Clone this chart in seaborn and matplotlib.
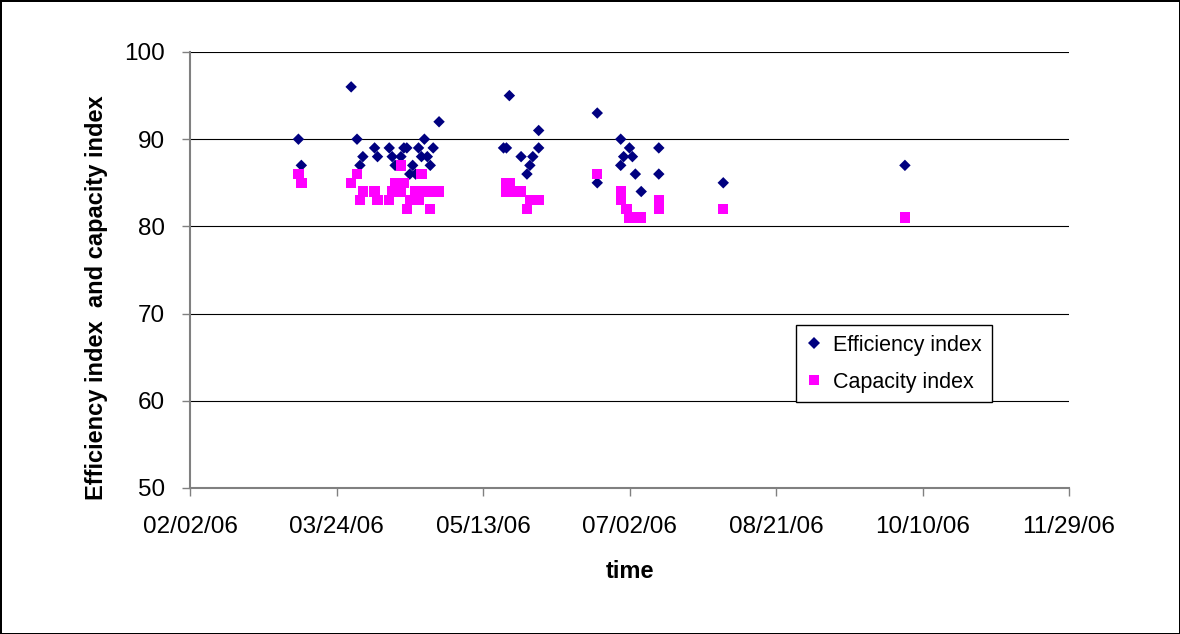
import matplotlib
matplotlib.use("Agg")
import matplotlib.pyplot as plt
import matplotlib.dates as mdates
import pandas as pd
import seaborn as sns

# efficiency index readings
eff_dates = ["2006-03-11", "2006-03-12", "2006-03-29", "2006-03-31", "2006-04-01", "2006-04-02",
             "2006-04-06", "2006-04-07", "2006-04-11", "2006-04-12", "2006-04-13", "2006-04-15",
             "2006-04-16", "2006-04-17", "2006-04-18", "2006-04-19", "2006-04-20", "2006-04-21",
             "2006-04-22", "2006-04-23", "2006-04-24", "2006-04-25", "2006-04-26", "2006-04-28",
             "2006-05-20", "2006-05-21", "2006-05-22", "2006-05-26", "2006-05-28", "2006-05-29",
             "2006-05-30", "2006-06-01", "2006-06-01",
             "2006-06-21", "2006-06-21", "2006-06-29", "2006-06-29", "2006-06-30", "2006-07-02",
             "2006-07-03", "2006-07-04", "2006-07-06", "2006-07-12", "2006-07-12",
             "2006-08-03", "2006-10-04"]
eff_vals = [90, 87, 96, 90, 87, 88,
            89, 88, 89, 88, 87, 88,
            89, 89, 86, 87, 86, 89,
            88, 90, 88, 87, 89, 92,
            89, 89, 95, 88, 86, 87,
            88, 91, 89,
            93, 85, 90, 87, 88, 89,
            88, 86, 84, 86, 89,
            85, 87]

# capacity index readings
cap_dates = ["2006-03-11", "2006-03-12", "2006-03-29", "2006-03-31", "2006-04-01", "2006-04-02",
             "2006-04-06", "2006-04-07", "2006-04-11", "2006-04-12", "2006-04-13", "2006-04-15",
             "2006-04-15", "2006-04-16", "2006-04-17", "2006-04-18", "2006-04-20", "2006-04-21",
             "2006-04-22", "2006-04-23", "2006-04-25", "2006-04-25", "2006-04-28",
             "2006-05-21", "2006-05-22", "2006-05-21", "2006-05-24", "2006-05-26", "2006-05-28",
             "2006-05-29", "2006-06-01",
             "2006-06-21", "2006-06-29", "2006-06-29", "2006-07-01", "2006-07-02", "2006-07-04",
             "2006-07-06", "2006-07-12", "2006-07-12", "2006-08-03", "2006-10-04"]
cap_vals = [86, 85, 85, 86, 83, 84,
            84, 83, 83, 84, 85, 87,
            84, 85, 82, 83, 84, 83,
            86, 84, 84, 82, 84,
            85, 85, 84, 84, 84, 82,
            83, 83,
            86, 84, 83, 82, 81, 81,
            81, 83, 82, 82, 81]

x_ticks = pd.date_range("2006-02-02", periods=7, freq="50D")

df = pd.concat([
    pd.DataFrame({"date": pd.to_datetime(eff_dates), "value": eff_vals, "series": "Efficiency index"}),
    pd.DataFrame({"date": pd.to_datetime(cap_dates), "value": cap_vals, "series": "Capacity index"}),
])

sns.set_style("white")
plt.rcParams["font.family"] = ["Liberation Sans", "DejaVu Sans"]
plt.rcParams["text.color"] = "black"
plt.rcParams["xtick.labelcolor"] = "black"
plt.rcParams["ytick.labelcolor"] = "black"
plt.rcParams["axes.labelcolor"] = "black"

fig = plt.figure(figsize=(11.8, 6.34), dpi=100, linewidth=2, edgecolor="black")
ax = fig.add_axes([190 / 1180, 1 - 488 / 634, 879 / 1180, 436 / 634])

sns.scatterplot(data=df, x="date", y="value", hue="series", style="series", size="series",
                palette={"Efficiency index": "#000080", "Capacity index": "#FF00FF"},
                markers={"Efficiency index": "D", "Capacity index": "s"},
                sizes={"Efficiency index": 34, "Capacity index": 56},
                linewidth=0, ax=ax, zorder=3)

ax.set_xlim(x_ticks[0], x_ticks[-1])
ax.set_ylim(50, 100)
ax.set_yticks(range(50, 101, 10))
ax.set_xticks(x_ticks)
ax.xaxis.set_major_formatter(mdates.DateFormatter("%m/%d/%y"))

ax.yaxis.grid(True, color="black", linewidth=0.8)
ax.set_axisbelow(True)
for side in ["top", "right"]:
    ax.spines[side].set_visible(False)
for side in ["left", "bottom"]:
    ax.spines[side].set_color("#808080")
    ax.spines[side].set_linewidth(1.5)
ax.tick_params(axis="both", direction="out", length=6, width=1, color="#808080",
               labelsize=17.5, left=True, bottom=True)
ax.tick_params(axis="x", pad=14)
ax.tick_params(axis="y", pad=12)

ax.set_xlabel("time", fontsize=17, fontweight="bold", labelpad=16)
ax.set_ylabel("Efficiency index  and capacity index", fontsize=17, fontweight="bold")
# excel puts the axis title a bit lower than the plot centre
ax.yaxis.set_label_coords(-0.093, 0.436)

handles, labels = ax.get_legend_handles_labels()
ax.legend(handles, labels, loc="upper left", bbox_to_anchor=(0.689, 0.374), borderaxespad=0,
          fontsize=15.5, frameon=True, fancybox=False, edgecolor="black", framealpha=1,
          handlelength=0.8, handletextpad=0.5, borderpad=0.45, labelspacing=0.75)

fig.savefig("out.png", dpi=100)
